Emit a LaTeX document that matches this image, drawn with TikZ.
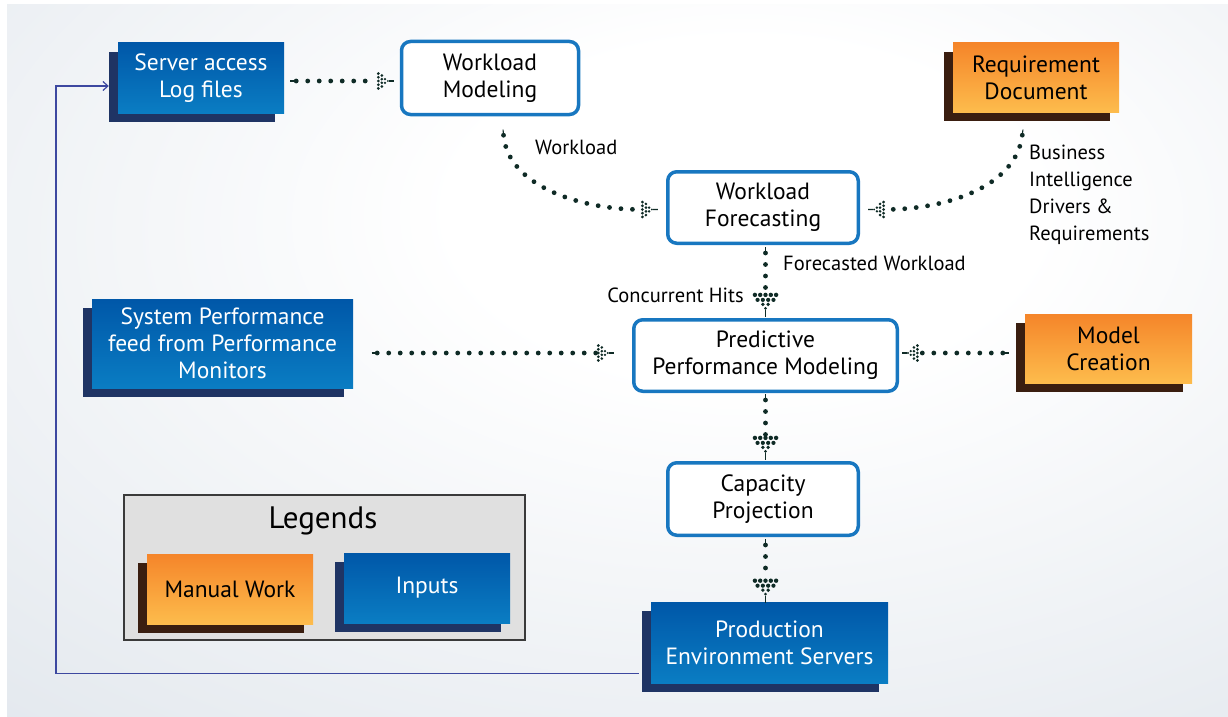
\documentclass[tikz,border=0pt]{standalone}
\usepackage{fontspec}
\setmainfont{PT Sans}
\usetikzlibrary{calc,shadows,decorations.markings,arrows.meta}
\definecolor{bgedge}{HTML}{D3DBE4}
\definecolor{bluetop}{HTML}{0057A8}
\definecolor{bluebot}{HTML}{0A7DC3}
\definecolor{blueshadow}{HTML}{1F3464}
\definecolor{orangetop}{HTML}{F5852A}
\definecolor{orangebot}{HTML}{FDBC4C}
\definecolor{brownshadow}{HTML}{3A1E10}
\definecolor{roundborder}{HTML}{1877C0}
\definecolor{dotcol}{HTML}{0F2B26}
\definecolor{fbcol}{HTML}{3D48A0}
\definecolor{legfill}{HTML}{E0E0E0}
\definecolor{legdraw}{HTML}{3A3A3A}
\pgfdeclareradialshading{bgshade}{\pgfpoint{6bp}{12bp}}{color(0bp)=(white); color(12bp)=(white); color(62bp)=(bgedge); color(100bp)=(bgedge)}
\newcommand{\headdots}{%
  \foreach \yy in {-10.6,-5.3,0,5.3,10.6} {\fill (-16,\yy) circle (2.2);}
  \foreach \yy in {-7.95,-2.65,2.65,7.95} {\fill (-11,\yy) circle (2.1);}
  \foreach \yy in {-2.65,2.65} {\fill (-6.5,\yy) circle (1.9);}
  \fill (-2.5,0) circle (1.5);
  \draw[line width=1.1pt,line cap=butt] (-1,0) -- (6,0);
}
\tikzset{
  x=1pt,y=-1pt,
  txt/.style={font=\fontsize{23.5}{27}\selectfont, align=center},
  lbl/.style={font=\fontsize{20.5}{27}\selectfont, text=black, inner sep=0pt},
  inbox/.style={txt, text=white, top color=bluetop, bottom color=bluebot, draw=none,
    inner sep=0pt, drop shadow={shadow xshift=-9pt, shadow yshift=-9pt, fill=blueshadow, opacity=1}},
  manbox/.style={txt, text=black, top color=orangetop, bottom color=orangebot, draw=none,
    inner sep=0pt, drop shadow={shadow xshift=-9pt, shadow yshift=-9pt, fill=brownshadow, opacity=1}},
  procbox/.style={txt, text=black, fill=white, draw=roundborder, line width=3.5pt,
    rounded corners=9pt, inner sep=0pt},
  dotline/.style={draw=dotcol, line width=4.8pt, line cap=round, dash pattern=on 0pt off 11.5pt},
  dotarrow/.style={dotline, shorten >=#1*19pt, shorten <=6pt,
    postaction={decorate, draw=none, shorten >=0pt, shorten <=0pt, decoration={markings,
      mark=at position 0.998 with {\begin{scope}[x=#1 pt,y=#1 pt, fill=dotcol, draw=dotcol, dash pattern=on 10pt off 0pt]\headdots\end{scope}},
      mark=at position 0.002 with {\draw[dotcol, line width=1.1pt, solid, line cap=butt] (0,0) -- (4,0);}}}},
  fb/.style={draw=fbcol, line width=1.2pt},
}
\begin{document}
\begin{tikzpicture}
\useasboundingbox (0,0) rectangle (1228,717);
\fill[white] (0,0) rectangle (1228,717);
\shade[shading=bgshade] (7,5) rectangle (1228,717);

% nodes
\node[inbox, minimum width=166pt, minimum height=70pt] (srv) at (201,78) {Server access\\Log files};
\node[procbox, minimum width=177pt, minimum height=73pt] (wm) at (490,78) {Workload\\Modeling};
\node[manbox, minimum width=166pt, minimum height=69pt] (req) at (1036,77.5) {Requirement\\Document};
\node[procbox, minimum width=190.5pt, minimum height=71.5pt] (wf) at (763,207.5) {Workload\\Forecasting};
\node[procbox, minimum width=263.5pt, minimum height=71.5pt] (ppm) at (765.5,355.5) {Predictive\\Performance Modeling};
\node[manbox, minimum width=167pt, minimum height=69pt] (mc) at (1108.5,348.5) {Model\\Creation};
\node[inbox, minimum width=261pt, minimum height=89pt] (spf) at (222.5,343.5) {System Performance\\feed from Performance\\Monitors};
\node[procbox, minimum width=190.5pt, minimum height=72.5pt] (cp) at (763,499) {Capacity\\Projection};
\node[inbox, minimum width=237pt, minimum height=81pt] (pes) at (769.5,642.5) {Production\\Environment Servers};

% legend
\node[draw=legdraw, fill=legfill, line width=1.3pt, minimum width=401pt, minimum height=145pt, inner sep=0pt] (leg) at (324.5,567.5) {};
\node[font=\fontsize{31}{34}\selectfont, text=black] (legt) at (323,521) {Legends};
\node[manbox, minimum width=166pt, minimum height=70pt] (mw) at (230,589) {Manual Work};
\node[inbox, minimum width=166pt, minimum height=70pt] (inp) at (427,588) {Inputs};

% connectors
\draw[dotarrow=0.7] ($(srv.east)+(6,3)$) -- ($(wm.west)+(-10,3)$);
\draw[dotarrow=0.7] ($(wm.south)+(13,13)$) .. controls ($(wm.south)+(18,70)$) and ($(wf.west)+(-85,2)$) .. ($(wf.west)+(-12,2)$);
\draw[dotarrow=0.7] ($(req.south)+(-13,17)$) .. controls ($(req.south)+(-20,75)$) and ($(wf.east)+(85,2)$) .. ($(wf.east)+(12,2)$);
\draw[dotarrow=1] ($(wf.south -| ppm.north)+(0,2)$) -- ($(ppm.north)+(0,-7)$);
\draw[dotarrow=0.7] ($(spf.east)+(18,9.5)$) -- ($(ppm.west)+(-22,-2.5)$);
\draw[dotarrow=0.7] ($(mc.west)+(-16,4.5)$) -- ($(ppm.east)+(7,-2.5)$);
\draw[dotarrow=1] ($(ppm.south)+(0,1)$) -- ($(cp.north -| ppm.south)+(0,-7)$);
\draw[dotarrow=1] ($(cp.south -| ppm.south)+(0,2)$) -- ($(pes.north -| ppm.south)+(0,-5)$);

% labels
\node[lbl, anchor=west] (lw) at (535,147) {Workload};
\node[lbl, anchor=north west, align=left] (lb) at (1029,145) {Business\\Intelligence\\Drivers \&\\Requirements};
\node[lbl, anchor=west] (lfw) at (783,263) {Forecasted Workload};
\node[lbl, anchor=east] (lch) at (744,295) {Concurrent Hits};

% feedback line
\coordinate (fbc) at (56,86);
\draw[fb, -{Straight Barb[length=5pt,width=9pt]}] ($(pes.south west)+(-12,-10)$) -| (fbc) -- ($(srv.west)+(-9,8)$);
\end{tikzpicture}
\end{document}
